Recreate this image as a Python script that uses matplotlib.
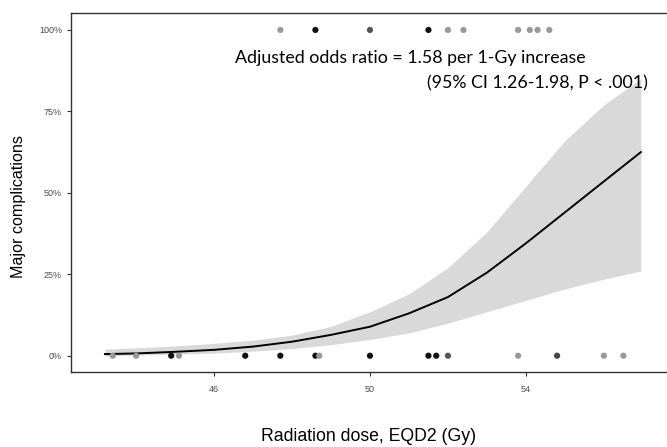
import numpy as np
import matplotlib
matplotlib.use("Agg")
import matplotlib.pyplot as plt
from matplotlib.ticker import PercentFormatter

# observed patients: dose (Gy) with major complication (100%) or none (0%)
dose_event = [47.7, 48.6, 50.0, 51.5, 52.0, 52.4, 53.8, 54.1, 54.3, 54.6]
shade_event = ["#999999", "#111111", "#555555", "#111111", "#999999",
               "#999999", "#999999", "#999999", "#999999", "#999999"]
dose_none = [43.4, 44.0, 44.9, 45.1, 46.8, 47.7, 48.6, 48.7, 50.0,
             51.5, 51.7, 52.0, 53.8, 54.8, 56.0, 56.5]
shade_none = ["#999999", "#999999", "#111111", "#999999", "#111111", "#111111",
              "#111111", "#999999", "#111111", "#111111", "#111111", "#555555",
              "#999999", "#444444", "#999999", "#999999"]

# fitted probability with 95% band
curve_dose = [43.2, 44, 45, 46, 47, 48, 49, 50, 51, 52, 53, 54, 55, 56, 56.95]
curve_prob = [0.005, 0.007, 0.012, 0.018, 0.028, 0.043, 0.064, 0.089,
              0.13, 0.18, 0.255, 0.345, 0.44, 0.535, 0.625]
band_low = [0.0, 0.002, 0.005, 0.008, 0.014, 0.022, 0.034, 0.05,
            0.07, 0.10, 0.135, 0.17, 0.205, 0.235, 0.26]
band_high = [0.02, 0.024, 0.03, 0.038, 0.048, 0.063, 0.09, 0.135,
             0.19, 0.27, 0.38, 0.52, 0.66, 0.77, 0.85]

fig = plt.figure(figsize=(6.67, 4.47), dpi=100)
ax = fig.add_axes([71 / 667, (447 - 372) / 447, 1 - 71 / 667, (372 - 13) / 447])

ax.fill_between(curve_dose, band_low, band_high, color="#d9d9d9", lw=0, zorder=1)
ax.plot(curve_dose, curve_prob, color="black", lw=1.4, zorder=2)
ax.scatter(dose_event, np.ones(len(dose_event)), s=20, c=shade_event, lw=0, zorder=3)
ax.scatter(dose_none, np.zeros(len(dose_none)), s=20, c=shade_none, lw=0, zorder=3)

ax.set_xlim(42.33, 57.62)
ax.set_ylim(-0.05, 1.052)
ax.set_xticks([46, 50, 54])
ax.set_yticks([0, 0.25, 0.5, 0.75, 1.0])
ax.yaxis.set_major_formatter(PercentFormatter(1.0, decimals=0))
ax.tick_params(labelsize=6.5, labelcolor="#4d4d4d", length=3, width=0.8, color="#333333")
ax.tick_params(axis="x", pad=6)
for t in ax.get_xticklabels() + ax.get_yticklabels():
    t.set_family("Liberation Sans")
ax.spines["right"].set_visible(False)
for s in ["left", "bottom", "top"]:
    ax.spines[s].set_linewidth(1.0)
    ax.spines[s].set_color("#333333")

ax.set_xlabel("Radiation dose, EQD2 (Gy)", fontsize=12.7, family="Liberation Sans", labelpad=25)
ax.set_ylabel("Major complications", fontsize=11.6, family="Liberation Sans")
ax.yaxis.set_label_coords(-0.075, 0.46)

ax.text(46.54, 0.914, "Adjusted odds ratio = 1.58 per 1-Gy increase",
        fontsize=12.8, family="Lato", ha="left", va="center")
ax.text(57.12, 0.837, "(95% CI 1.26-1.98, P < .001)",
        fontsize=12.8, family="Lato", ha="right", va="center")

fig.savefig("out.png", dpi=100)
